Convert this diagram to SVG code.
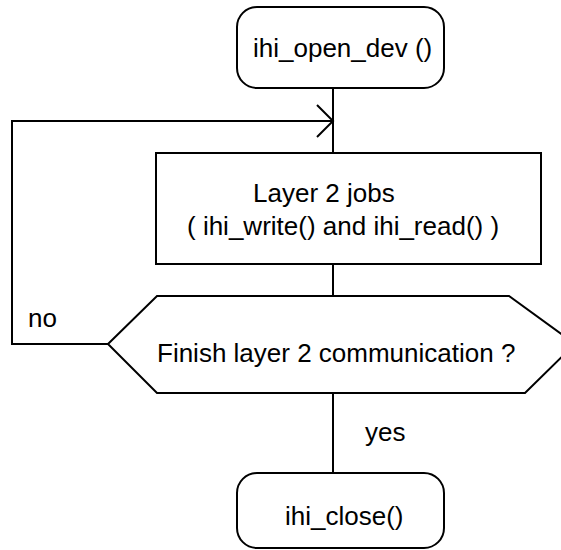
<svg xmlns="http://www.w3.org/2000/svg" width="561" height="550" viewBox="0 0 561 550">
<style>
.s{fill:#fff;stroke:#000;stroke-width:2}
.l{fill:none;stroke:#000;stroke-width:2}
text{font-family:"Liberation Sans",Arial,sans-serif;font-size:26px;fill:#000}
</style>
<rect width="561" height="550" fill="#fff"/>
<g id="connectors">
<line class="l" x1="333" y1="88" x2="333" y2="153"/>
<polyline class="l" points="108,344 12,344 12,121 333,121"/>
<polyline class="l" points="317,105 333,121 317,137"/>
<line class="l" x1="333" y1="264" x2="333" y2="296"/>
<line class="l" x1="333" y1="393" x2="333" y2="473"/>
<text x="28" y="327">no</text>
<text x="365" y="441">yes</text>
</g>
<g id="open">
<rect class="s" x="237" y="7" width="207" height="81" rx="20"/>
<text x="253" y="57">ihi_open_dev ()</text>
</g>
<g id="jobs">
<rect class="s" x="156" y="153" width="385" height="111"/>
<text x="253" y="202">Layer 2 jobs</text>
<text x="187" y="235">( ihi_write() and ihi_read() )</text>
</g>
<g id="decision">
<polygon class="s" points="108,344 157,296 509,296 575,344 525,393 157,393"/>
<text x="157" y="362">Finish layer 2 communication ?</text>
</g>
<g id="close">
<rect class="s" x="237" y="473" width="207" height="75" rx="20"/>
<text x="285" y="525">ihi_close()</text>
</g>
</svg>
